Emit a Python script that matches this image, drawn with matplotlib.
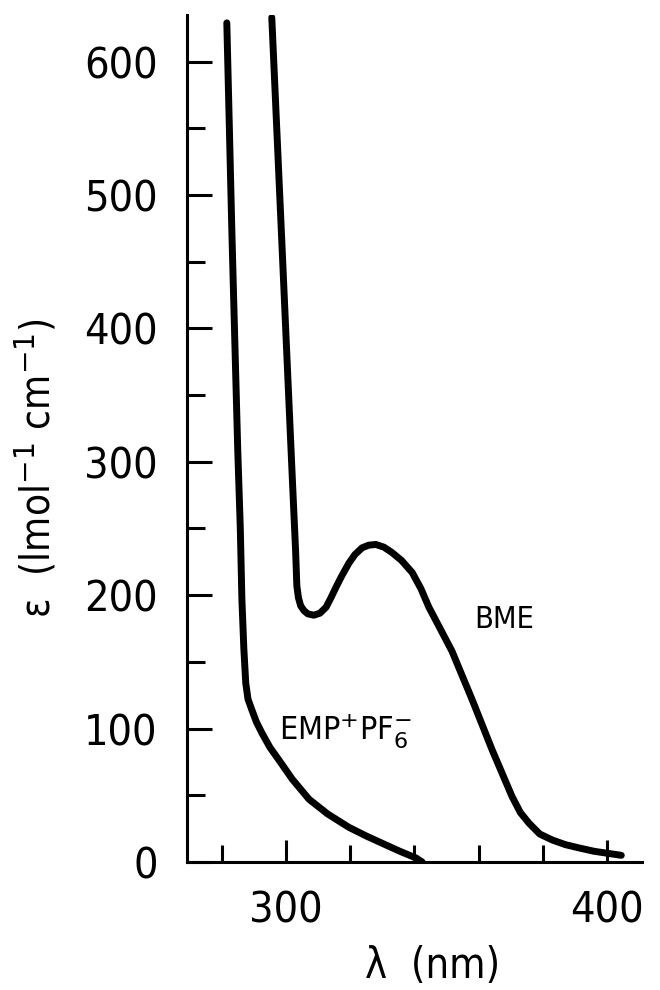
import matplotlib
matplotlib.use("Agg")
import matplotlib.pyplot as plt
from matplotlib.ticker import FixedLocator

plt.rcParams["mathtext.fontset"] = "dejavusans"

# Data
emp_wl = [281.6, 283.2, 285.0, 285.8, 286.3, 286.9, 287.5, 288.2, 289.4, 290.8, 292.5, 295.0, 297.8, 302.0, 307.2, 313.0, 319.6, 325.0, 330.0, 335.5, 340.5, 342.4]
emp_eps = [629, 470, 309, 250, 196.5, 160, 134, 122, 114, 105, 96.8, 86, 76.5, 62, 47, 36, 26, 19.5, 14, 8, 3, 0]

bme_wl = [295.6, 299.0, 302.0, 303.0, 303.4, 303.9, 304.6, 305.6, 306.8, 308.7, 310.6, 312.5, 314.0, 315.6, 317.5, 319.6, 321.5, 323.7, 325.8, 328.0, 330.5, 333.0, 336.0, 339.3, 342.0, 344.5, 348.0, 351.7, 358.0, 364.2, 370.4, 373.0, 375.7, 379.0, 382.9, 387.0, 391.3, 396.0, 404.4]
bme_eps = [633, 450, 287, 234, 207, 198, 192, 188.5, 186, 185, 186.5, 191, 198, 206, 215, 224, 230.5, 235.5, 237.5, 238, 236, 232, 226, 217, 205, 191, 175, 158, 121.5, 84, 49, 37, 29, 21, 16.5, 13, 10.5, 8, 5]

x_major = [300, 400]
x_minor = [280, 320, 340, 360, 380]
y_major = [0, 100, 200, 300, 400, 500, 600]
y_minor = [50, 150, 250, 350, 450, 550]

FONT = dict(family="DejaVu Sans", stretch="condensed")

fig = plt.figure(figsize=(6.6, 9.9), dpi=100)
ax = fig.add_axes([0.2833, 0.1293, 0.6897, 0.8557])

ax.plot(emp_wl, emp_eps, color="black", lw=5, solid_capstyle="round", solid_joinstyle="round")
ax.plot(bme_wl, bme_eps, color="black", lw=5, solid_capstyle="round", solid_joinstyle="round")

ax.set_xlim(269.2, 410.9)
ax.set_ylim(0, 635)

for s in ["top", "right"]:
    ax.spines[s].set_visible(False)
for s in ["left", "bottom"]:
    ax.spines[s].set_linewidth(2.2)

ax.xaxis.set_major_locator(FixedLocator(x_major))
ax.xaxis.set_minor_locator(FixedLocator(x_minor))
ax.yaxis.set_major_locator(FixedLocator(y_major))
ax.yaxis.set_minor_locator(FixedLocator(y_minor))

ax.tick_params(axis="both", which="both", direction="in", width=2.2, color="black")
ax.tick_params(axis="y", which="major", length=18, pad=21)
ax.tick_params(axis="y", which="minor", length=13)
ax.tick_params(axis="x", which="major", length=16, pad=20)
ax.tick_params(axis="x", which="minor", length=12)

for lbl in ax.get_xticklabels() + ax.get_yticklabels():
    lbl.set_fontsize(31)
    lbl.set_family(FONT["family"])
    lbl.set_stretch(FONT["stretch"])

ax.set_xlabel("λ  (nm)", fontsize=30, **FONT)
ax.set_ylabel("ε  (lmol$^{-1}$ cm$^{-1}$)", fontsize=29, **FONT)
ax.xaxis.set_label_coords(0.54, -0.098)
ax.yaxis.set_label_coords(-0.28, 0.465)

ax.text(297.8, 91.5, r"EMP$^{+}$PF$_6^{-}$", fontsize=23, ha="left", va="baseline", **FONT)
ax.text(367.9, 181.5, "BME", fontsize=22, ha="center", va="center", **FONT)

fig.savefig("out.png", dpi=100)
